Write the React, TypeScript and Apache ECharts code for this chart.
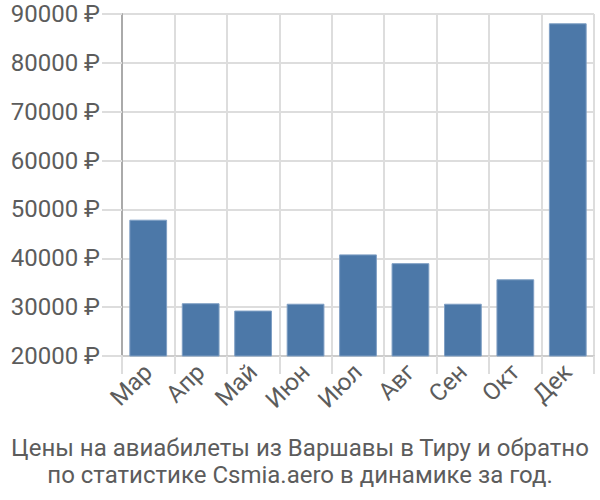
import React, { useEffect, useRef } from "react";
import * as echarts from "echarts";

const categories = ["Мар", "Апр", "Май", "Июн", "Июл", "Авг", "Сен", "Окт", "Дек"];
const prices = [47900, 30800, 29300, 30700, 40800, 39000, 30700, 35700, 88100];
const titleLines = [
  "Цены на авиабилеты из Варшавы в Тиру и обратно",
  "по статистике Csmia.aero в динамике за год.",
];

const FONT = "Roboto, 'DejaVu Sans', sans-serif";

export default function App() {
  const ref = useRef<HTMLDivElement>(null);
  useEffect(() => {
    document.body.style.margin = "0";
    const chart = echarts.init(ref.current!, null, { renderer: "svg" });
    chart.setOption({
      animation: false,
      textStyle: { fontFamily: FONT },
      title: {
        text: titleLines.join("\n"),
        left: "center",
        top: 429,
        textStyle: { fontFamily: FONT, fontSize: 24, fontWeight: "normal", color: "#5c5c5c", lineHeight: 27 },
      },
      grid: { left: 122, right: 6, top: 14, bottom: 144, containLabel: false },
      xAxis: {
        type: "category",
        data: categories,
        axisLine: { show: true, lineStyle: { color: "#ccc", width: 2 } },
        axisTick: { show: true, length: 18, lineStyle: { color: "#ddd", width: 2 } },
        splitLine: { show: true, lineStyle: { color: "#ddd", width: 2 } },
        axisLabel: { rotate: 45, fontSize: 24, color: "#5c5c5c", margin: 12, interval: 0, fontFamily: FONT },
      },
      yAxis: {
        type: "value",
        min: 20000,
        max: 90000,
        interval: 10000,
        axisLine: { show: true, lineStyle: { color: "#aaa", width: 2 } },
        axisTick: { show: true, length: 20, lineStyle: { color: "#ddd", width: 2 } },
        splitLine: { show: true, lineStyle: { color: "#ddd", width: 2 } },
        axisLabel: {
          formatter: (v: number) => v + " ₽",
          fontSize: 24,
          color: "#5c5c5c",
          margin: 22,
          fontFamily: FONT,
        },
      },
      series: [
        {
          type: "bar",
          data: prices,
          barCategoryGap: "28%",
          itemStyle: { color: "#4c78a8", borderColor: "#7f9fc4", borderWidth: 1 },
        },
      ],
    });
    return () => chart.dispose();
  }, []);
  return <div ref={ref} style={{ width: 600, height: 500 }} />;
}
